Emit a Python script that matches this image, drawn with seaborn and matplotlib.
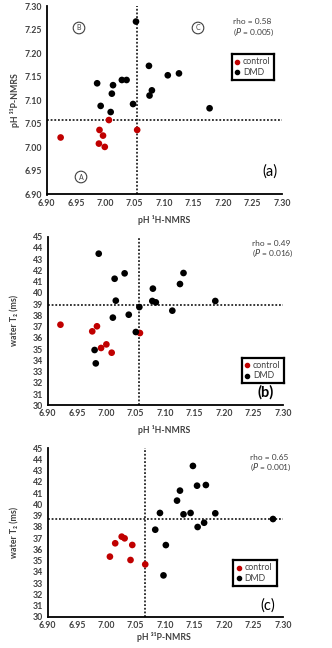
import matplotlib
matplotlib.use("Agg")
import matplotlib.pyplot as plt
import seaborn as sns
import pandas as pd
import numpy as np
from matplotlib.patches import Circle

sns.set_theme(style="white")
plt.rcParams['font.family'] = ['Lato', 'DejaVu Sans']

# ---- Data ----
# Panel (a): pH 1H-NMRS (x) vs pH 31P-NMRS (y)
a_ctrl_x = [6.924, 6.990, 6.996, 6.989, 6.999, 7.006, 7.054]
a_ctrl_y = [7.021, 7.037, 7.025, 7.008, 7.001, 7.058, 7.037]
a_dmd_x = [7.052, 6.986, 6.992, 7.013, 7.011, 7.009, 7.028, 7.036, 7.047,
           7.074, 7.075, 7.079, 7.106, 7.125, 7.177]
a_dmd_y = [7.267, 7.136, 7.088, 7.132, 7.114, 7.075, 7.143, 7.143, 7.092,
           7.173, 7.110, 7.121, 7.153, 7.157, 7.083]

# Panel (b): pH 1H-NMRS (x) vs water T2 (ms)
b_ctrl_x = [6.922, 6.976, 6.984, 6.991, 7.000, 7.009, 7.057]
b_ctrl_y = [37.17, 36.58, 37.03, 35.10, 35.42, 34.68, 36.43]
b_dmd_x = [6.987, 7.031, 7.014, 7.016, 7.011, 6.982, 6.980, 7.038, 7.050,
           7.056, 7.079, 7.078, 7.084, 7.112, 7.125, 7.131, 7.185]
b_dmd_y = [43.49, 41.74, 41.26, 39.31, 37.80, 33.73, 34.92, 38.06, 36.52,
           38.74, 40.38, 39.28, 39.16, 38.42, 40.79, 41.77, 39.28]

# Panel (c): pH 31P-NMRS (x) vs water T2 (ms)
c_ctrl_x = [7.006, 7.015, 7.026, 7.031, 7.044, 7.041, 7.066]
c_ctrl_y = [35.35, 36.54, 37.13, 36.98, 36.39, 35.05, 34.66]
c_dmd_x = [7.147, 7.154, 7.169, 7.125, 7.120, 7.091, 7.131, 7.143, 7.185,
           7.283, 7.083, 7.155, 7.166, 7.101, 7.097]
c_dmd_y = [43.43, 41.67, 41.73, 41.23, 40.34, 39.24, 39.12, 39.24, 39.21,
           38.70, 37.75, 37.99, 38.37, 36.38, 33.68]

groups = ["control", "DMD"]
palette = {"control": "#C00000", "DMD": "#000000"}

# reference lines (vertical x, horizontal y)
a_ref = (7.054, 7.058)
b_ref = (7.056, 38.92)
c_ref = (7.065, 38.72)

a_stats = ("rho = 0.58", "0.005")
b_stats = ("rho = 0.49", "0.016")
c_stats = ("rho = 0.65", "0.001")

x_ticks = [6.90, 6.95, 7.00, 7.05, 7.10, 7.15, 7.20, 7.25, 7.30]
a_yticks = [6.90, 6.95, 7.00, 7.05, 7.10, 7.15, 7.20, 7.25, 7.30]
t2_yticks = list(range(30, 46))

label_1h = "pH ¹H-NMRS"
label_31p = "pH ³¹P-NMRS"
label_t2 = "water T₂ (ms)"


def frame(cx, cy, dx, dy):
    return pd.DataFrame({
        "x": list(cx) + list(dx),
        "y": list(cy) + list(dy),
        "group": ["control"] * len(cx) + ["DMD"] * len(dx),
    })


W, H = 332, 648
fig = plt.figure(figsize=(W / 100, H / 100), dpi=100)

TICK_COLOR = "#404040"


def make_axes(rect_px):
    l, t, r, b = rect_px
    return fig.add_axes([l / W, 1 - b / H, (r - l) / W, (b - t) / H])


def style(ax, yticks, yfmt, ylim):
    ax.set_xlim(6.90, 7.30)
    ax.set_ylim(*ylim)
    ax.set_xticks(x_ticks)
    ax.set_xticklabels([f"{v:.2f}" for v in x_ticks])
    ax.set_yticks(yticks)
    ax.set_yticklabels([yfmt.format(v) for v in yticks])
    for s in ["top", "right"]:
        ax.spines[s].set_visible(False)
    for s in ["left", "bottom"]:
        ax.spines[s].set_color("black")
        ax.spines[s].set_linewidth(1.3)
    ax.tick_params(axis="both", length=0, pad=3, labelsize=6.3,
                   labelcolor=TICK_COLOR)
    for lab in ax.get_xticklabels() + ax.get_yticklabels():
        lab.set_fontweight("bold")
    ax.set_xlabel("")
    ax.set_ylabel("")
    ax.grid(False)
    ax.set_facecolor("white")


def draw(ax, df, ref):
    ax.axvline(ref[0], color="black", lw=1.1, ls=(0, (1.2, 1.2)), zorder=1)
    ax.axhline(ref[1], color="black", lw=1.1, ls=(0, (1.2, 1.2)), zorder=1)
    sns.scatterplot(data=df, x="x", y="y", hue="group", hue_order=groups,
                    palette=palette, s=23, edgecolor="none", ax=ax,
                    legend=False, zorder=3)


def legend_box(ax, xy_px):
    l, t, r, b = xy_px
    axl = fig.add_axes([l / W, 1 - b / H, (r - l) / W, (b - t) / H])
    axl.set_xlim(0, 1)
    axl.set_ylim(0, 1)
    axl.set_xticks([])
    axl.set_yticks([])
    for s in axl.spines.values():
        s.set_color("black")
        s.set_linewidth(1.6)
    axl.scatter([0.13], [0.7], s=9, color=palette["control"])
    axl.scatter([0.13], [0.3], s=9, color=palette["DMD"])
    axl.text(0.26, 0.7, "control", va="center", ha="left", fontsize=6.3,
             color="#404040")
    axl.text(0.26, 0.3, "DMD", va="center", ha="left", fontsize=6.3,
             color="#404040")


def stats(ax, xpx, ypx, st):
    fig.text(xpx / W, 1 - ypx / H, st[0], ha="left", va="center",
             fontsize=6.0, color="#404040")
    fig.text(xpx / W, 1 - (ypx + 10.5) / H,
             r"($\it{P}$ = " + st[1] + ")", ha="left", va="center",
             fontsize=6.0, color="#404040")


def axis_label(x, y, s, rot=0):
    fig.text(x / W, 1 - y / H, s, rotation=rot, ha="center", va="center",
             fontsize=6.3, fontweight="bold", color=TICK_COLOR)


# ---- Panel a ----
ax_a = make_axes((46.5, 6, 282, 194.5))
draw(ax_a, frame(a_ctrl_x, a_ctrl_y, a_dmd_x, a_dmd_y), a_ref)
style(ax_a, a_yticks, "{:.2f}", (6.90, 7.30))
legend_box(ax_a, (232, 54, 274, 80))
stats(ax_a, 233, 22, a_stats)
for (px, py, lab) in [(79, 28, "B"), (198, 28, "C"), (81, 177, "A")]:
    fig.patches.append(Circle((px, (H - py)), 5.8,
                              transform=None, fill=False,
                              edgecolor="#404040", lw=0.8))
    fig.text(px / W, 1 - py / H, lab, ha="center", va="center",
             fontsize=5.0, color="#404040")
fig.text(270 / W, 1 - 172 / H, "(a)", ha="center", va="center",
         fontsize=10.5, color="black")
axis_label(15, 100, label_31p, rot=90)
axis_label(164, 220, label_1h)

# ---- Panel b ----
ax_b = make_axes((47.5, 236.7, 283, 405.3))
draw(ax_b, frame(b_ctrl_x, b_ctrl_y, b_dmd_x, b_dmd_y), b_ref)
style(ax_b, t2_yticks, "{:d}", (30, 45))
legend_box(ax_b, (242, 358, 284, 383))
stats(ax_b, 252, 243, b_stats)
fig.text(266 / W, 1 - 392 / H, "(b)", ha="center", va="center",
         fontsize=10.5, fontweight="bold", color="black")
axis_label(15, 320, label_t2, rot=90)
axis_label(164, 430, label_1h)

# ---- Panel c ----
ax_c = make_axes((47.5, 448.3, 283, 616.7))
draw(ax_c, frame(c_ctrl_x, c_ctrl_y, c_dmd_x, c_dmd_y), c_ref)
style(ax_c, t2_yticks, "{:d}", (30, 45))
legend_box(ax_c, (233, 560, 277, 586))
stats(ax_c, 250, 457, c_stats)
fig.text(268 / W, 1 - 606 / H, "(c)", ha="center", va="center",
         fontsize=10.5, color="black")
axis_label(15, 532, label_t2, rot=90)
axis_label(164, 637, label_31p)

fig.savefig("out.png", dpi=100, facecolor="white")
